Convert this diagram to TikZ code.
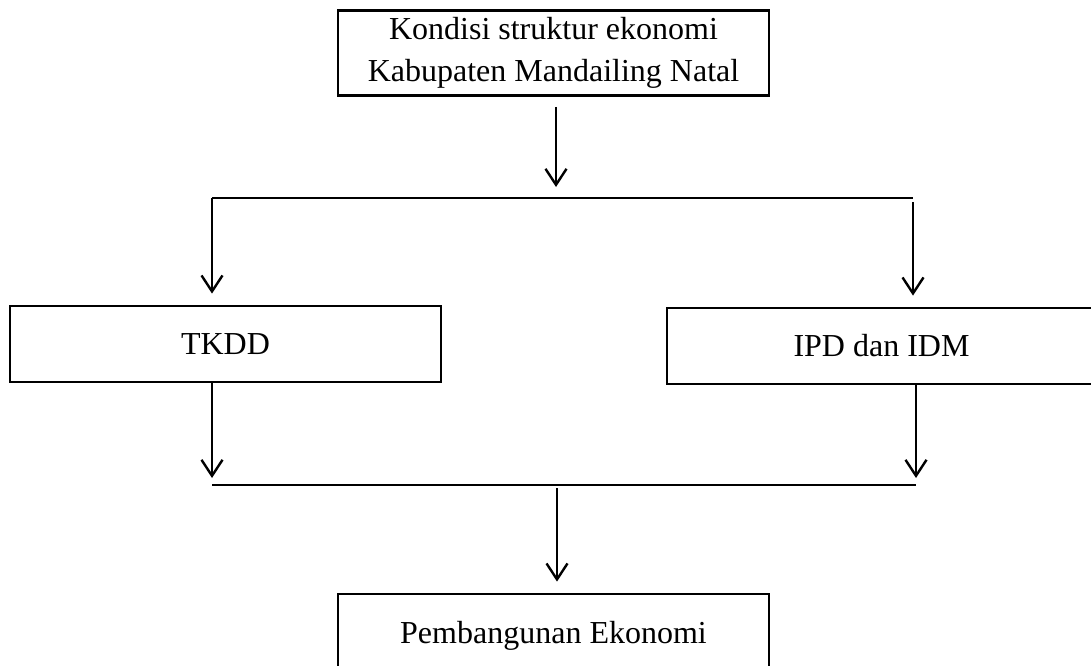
\documentclass[tikz,border=0pt]{standalone}
\usepackage{fontspec}
\setmainfont{Liberation Serif}
\usetikzlibrary{arrows.meta}
\begin{document}
\begin{tikzpicture}[x=1pt,y=-1pt,
  box/.style={draw, line width=2.8pt, inner sep=0pt, font=\fontsize{32}{42}\selectfont, align=center},
  conn/.style={line width=2.4pt},
  arr/.style={conn, -{Straight Barb[length=16pt,width=21pt,line width=2.4pt]}}]
\useasboundingbox (0,0) rectangle (1091,665);
\clip (0,0) rectangle (1091,665);
\node[box, minimum width=431pt, minimum height=85pt] (top) at (553.5,53) {Kondisi struktur ekonomi\\Kabupaten Mandailing Natal};
\node[box, minimum width=431pt, minimum height=76pt] (left) at (225.5,344) {TKDD};
\node[box, minimum width=429pt, minimum height=76pt] (right) at (881.5,346) {IPD dan IDM};
\node[box, minimum width=431pt, minimum height=84pt] (bottom) at (553.5,636) {Pembangunan Ekonomi};
\coordinate (j1) at (556,198);
\coordinate (hl) at (212,198);
\coordinate (hr) at (913,198);
\coordinate (bl) at (212,485);
\coordinate (br) at (916,485);
\coordinate (j2) at (557,485);
\draw[arr, shorten <=10pt, shorten >=11pt] (top.south -| j1) -- (j1);
\draw[conn] (hl) -- (hr);
\draw[arr, shorten >=11pt] (hl) -- (hl |- left.north);
\draw[arr, shorten <=4pt, shorten >=11pt] (hr) -- (hr |- right.north);
\draw[arr, shorten >=7pt] (left.south -| bl) -- (bl);
\draw[arr, shorten >=7pt] (right.south -| br) -- (br);
\draw[conn] (bl) -- (br);
\draw[arr, shorten <=3pt, shorten >=11pt] (j2) -- (j2 |- bottom.north);
\end{tikzpicture}
\end{document}
